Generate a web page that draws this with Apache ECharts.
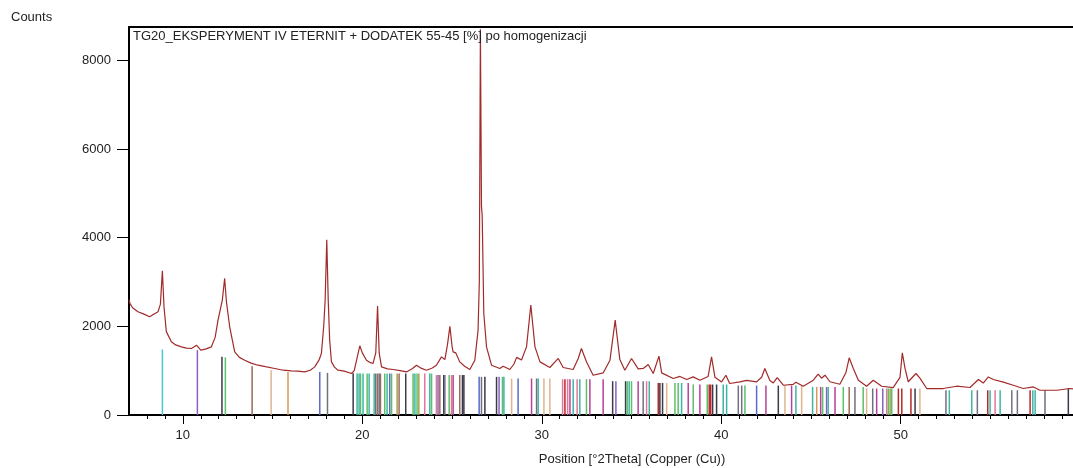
<!DOCTYPE html>
<html>
<head>
<meta charset="utf-8">
<script src="https://cdn.jsdelivr.net/npm/echarts@6/dist/echarts.min.js"></script>
<style>
  html, body { margin: 0; padding: 0; background: #fff; }
  #main { width: 1073px; height: 468px; }
</style>
</head>
<body>
<div id="main"></div>
<script>
// measured pattern: [2theta, counts]
const pattern = [
  [7.0, 2600], [7.05, 2520], [7.1, 2560], [7.2, 2420], [7.5, 2330], [7.8, 2280],
  [8.15, 2215], [8.4, 2280], [8.62, 2330], [8.75, 2500], [8.86, 3250], [8.95, 2440],
  [9.08, 1880], [9.36, 1650], [9.6, 1580], [9.92, 1537], [10.2, 1510], [10.48, 1500],
  [10.76, 1575], [11.0, 1462], [11.3, 1490], [11.59, 1537], [11.8, 1750], [11.96, 2140],
  [12.2, 2590], [12.33, 3080], [12.43, 2550], [12.61, 1990], [12.89, 1424], [13.15, 1300],
  [13.45, 1236], [13.8, 1170], [14.19, 1123], [14.6, 1090], [15.12, 1049], [15.6, 1010],
  [16.05, 994], [16.4, 990], [16.79, 972], [17.1, 1010], [17.35, 1085], [17.6, 1250],
  [17.72, 1388], [17.85, 2000], [17.93, 2600], [18.02, 3950], [18.1, 2600], [18.18, 1700],
  [18.28, 1198], [18.45, 1080], [18.65, 1010], [19.0, 990], [19.4, 936], [19.55, 1000],
  [19.68, 1236], [19.86, 1560], [20.0, 1400], [20.23, 1236], [20.45, 1180], [20.6, 1162],
  [20.75, 1400], [20.85, 2460], [20.94, 1400], [21.07, 1085], [21.4, 1040], [21.72, 1026],
  [22.1, 1000], [22.46, 972], [22.8, 1050], [23.02, 1123], [23.3, 1050], [23.58, 1010],
  [23.9, 1060], [24.13, 1123], [24.41, 1311], [24.6, 1250], [24.75, 1600], [24.88, 2000],
  [25.0, 1550], [25.06, 1424], [25.21, 1400], [25.43, 1198], [25.7, 1100], [25.99, 1026],
  [26.27, 1236], [26.45, 1914], [26.52, 3000], [26.58, 8700], [26.64, 4700], [26.68, 4500],
  [26.77, 2290], [26.92, 1537], [27.2, 1123], [27.66, 1049], [27.85, 1100], [28.22, 1026],
  [28.45, 1150], [28.6, 1300], [28.87, 1240], [29.15, 1537], [29.39, 2480], [29.62, 1537],
  [29.9, 1198], [30.45, 1071], [30.92, 1275], [31.19, 1071], [31.75, 1026], [32.03, 1275],
  [32.21, 1500], [32.49, 1200], [32.86, 897], [33.42, 949], [33.8, 1236], [34.09, 2140],
  [34.35, 1250], [34.63, 1010], [35.0, 1275], [35.37, 1040], [35.65, 1050], [35.93, 1140],
  [36.21, 936], [36.53, 1327], [36.68, 950], [37.32, 823], [37.7, 870], [38.07, 800],
  [38.44, 860], [38.81, 784], [39.27, 870], [39.46, 1311], [39.65, 850], [40.02, 746],
  [40.26, 897], [40.47, 710], [41.04, 746], [41.41, 780], [41.97, 746], [42.25, 850],
  [42.43, 1049], [42.71, 780], [42.9, 723], [43.12, 845], [43.46, 671], [44.01, 690],
  [44.16, 740], [44.57, 649], [45.13, 784], [45.4, 920], [45.59, 830], [45.78, 897],
  [46.06, 750], [46.61, 694], [46.95, 960], [47.13, 1290], [47.36, 1050], [47.64, 784],
  [48.1, 649], [48.47, 784], [48.94, 649], [49.58, 619], [49.96, 850], [50.09, 1400],
  [50.24, 1050], [50.42, 750], [50.85, 936], [51.07, 830], [51.45, 597], [52.37, 597],
  [53.12, 649], [53.86, 620], [54.33, 800], [54.6, 720], [54.88, 859], [55.16, 800],
  [55.72, 740], [56.27, 671], [56.83, 597], [57.39, 633], [57.76, 558], [58.7, 558],
  [59.43, 597], [59.6, 590]
];

// reference lines: [2theta, height, phase]
const refLines = [
  [8.86, 1478, 0], [10.81, 1463, 2], [12.18, 1311, 4], [12.37, 1300, 3], [13.86, 1100, 5],
  [14.92, 1010, 6], [15.86, 972, 7], [17.63, 972, 8], [18.06, 950, 9], [19.49, 940, 4],
  [19.71, 935, 10], [19.82, 935, 10], [19.9, 935, 3], [20.04, 935, 10], [20.27, 935, 3],
  [20.38, 935, 10], [20.66, 935, 10], [20.75, 935, 9], [20.85, 935, 5], [20.94, 935, 9],
  [21.01, 935, 5], [21.25, 935, 3], [21.38, 935, 10], [21.53, 935, 8], [21.63, 935, 3],
  [21.94, 935, 13], [22.05, 935, 5], [22.42, 935, 4], [22.83, 935, 3], [22.93, 935, 10],
  [23.05, 935, 3], [23.15, 935, 13], [23.48, 935, 12], [23.76, 935, 10], [23.86, 935, 3],
  [24.13, 900, 12], [24.22, 900, 2], [24.32, 900, 5], [24.54, 900, 4], [24.6, 900, 9],
  [24.84, 900, 3], [24.97, 900, 12], [25.06, 900, 1], [25.43, 900, 5], [25.58, 900, 4],
  [25.66, 900, 4], [26.51, 860, 8], [26.64, 860, 9], [26.83, 860, 4], [27.48, 860, 4],
  [27.62, 860, 2], [27.81, 860, 3], [27.89, 860, 10], [28.32, 823, 6], [28.68, 823, 8],
  [29.43, 823, 1], [29.71, 823, 9], [29.8, 823, 10], [30.12, 823, 6], [30.45, 823, 6],
  [31.16, 808, 12], [31.29, 808, 11], [31.44, 808, 12], [31.57, 808, 1], [31.75, 808, 10],
  [31.97, 808, 12], [32.12, 808, 10], [32.49, 808, 3], [32.68, 808, 1], [33.42, 808, 1],
  [33.95, 762, 4], [34.13, 762, 2], [34.67, 762, 4], [34.76, 762, 3], [34.87, 762, 10],
  [35.0, 762, 3], [35.37, 762, 1], [35.65, 762, 9], [35.84, 762, 12], [35.99, 762, 10],
  [36.49, 723, 11], [36.58, 723, 4], [36.73, 723, 4], [36.96, 723, 6], [37.42, 723, 3],
  [37.6, 723, 3], [37.79, 723, 10], [38.16, 723, 1], [38.44, 687, 3], [38.81, 687, 1],
  [39.22, 687, 3], [39.33, 687, 11], [39.41, 687, 11], [39.52, 687, 4], [39.74, 687, 4],
  [40.11, 687, 10], [40.3, 687, 10], [40.95, 664, 9], [41.14, 664, 9], [41.32, 664, 3],
  [41.97, 664, 8], [42.49, 664, 1], [43.18, 664, 4], [43.55, 664, 6], [43.92, 664, 1],
  [44.16, 664, 10], [44.48, 664, 6], [45.09, 633, 10], [45.32, 633, 7], [45.54, 633, 1],
  [45.65, 633, 3], [45.87, 633, 2], [45.96, 633, 10], [46.34, 633, 1], [46.8, 633, 3],
  [47.13, 633, 5], [47.45, 633, 9], [47.91, 633, 3], [48.1, 597, 6], [48.44, 597, 9],
  [48.66, 597, 1], [49.0, 597, 2], [49.22, 597, 12], [49.31, 597, 3], [49.41, 597, 13],
  [49.5, 597, 3], [49.87, 597, 11], [50.06, 597, 11], [50.57, 597, 11], [50.8, 597, 4],
  [51.07, 597, 6], [52.52, 558, 9], [52.71, 558, 10], [53.96, 558, 10], [54.27, 558, 9],
  [54.85, 558, 11], [54.98, 558, 10], [55.26, 558, 12], [55.54, 558, 10], [56.19, 558, 9],
  [56.5, 558, 9], [57.21, 558, 11], [57.36, 558, 10], [57.49, 558, 10], [58.04, 558, 9],
  [59.34, 597, 4]
];

const xTicks = [10, 20, 30, 40, 50];
const xMinorTicks = [8, 9, 11, 12, 13, 14, 15, 16, 17, 18, 19, 21, 22, 23, 24, 25, 26, 27, 28, 29,
  31, 32, 33, 34, 35, 36, 37, 38, 39, 41, 42, 43, 44, 45, 46, 47, 48, 49, 51, 52, 53, 54, 55, 56, 57, 58, 59];
const yTicks = [0, 2000, 4000, 6000, 8000];

const phaseColors = ['#4ec3d6', '#b8409a', '#8a60c0', '#5cbf6a', '#3a3a48', '#9a6a5a', '#e0b48c',
  '#d89858', '#5a6ac8', '#707080', '#3fb5a5', '#b82828', '#e07898', '#a8a050'];

const font = "'Liberation Sans', Arial, sans-serif";

let chartDom = document.getElementById('main');
let myChart = echarts.init(chartDom, null, { renderer: 'canvas' });
let option;

option = {
  backgroundColor: '#fff',
  animation: false,
  grid: { left: 129, right: 0, top: 27, bottom: 53 },
  xAxis: [
    {
      type: 'value', min: 7, max: 59.6, position: 'bottom',
      axisLine: { lineStyle: { color: '#000', width: 2 } },
      axisTick: { customValues: xTicks, length: 9, lineStyle: { color: '#000', width: 1 } },
      axisLabel: { customValues: xTicks, color: '#222', fontSize: 13, fontFamily: font, margin: 14 },
      splitLine: { show: false }
    },
    {
      type: 'value', min: 7, max: 59.6, position: 'bottom',
      axisLine: { show: false },
      axisTick: { customValues: xMinorTicks, length: 4, lineStyle: { color: '#000', width: 1 } },
      axisLabel: { show: false },
      splitLine: { show: false }
    },
    {
      type: 'value', min: 7, max: 59.6, position: 'top',
      axisLine: { lineStyle: { color: '#000', width: 2 } },
      axisTick: { show: false },
      axisLabel: { show: false },
      splitLine: { show: false }
    }
  ],
  yAxis: {
    type: 'value', min: 0, max: 8750,
    axisLine: { show: true, onZero: false, lineStyle: { color: '#000', width: 2 } },
    axisTick: { show: true, customValues: yTicks, length: 12, lineStyle: { color: '#000', width: 1 } },
    axisLabel: {
      customValues: yTicks, color: '#222', fontSize: 13, fontFamily: font, margin: 18,
      formatter: function (v) { return String(v); }
    },
    splitLine: { show: false }
  },
  graphic: [
    { type: 'text', left: 11, top: 11, style: { text: 'Counts', fill: '#222', font: '13px ' + font } },
    { type: 'text', left: 133, top: 30, z: 10,
      style: { text: 'TG20_EKSPERYMENT IV ETERNIT + DODATEK 55-45 [%] po homogenizacji', fill: '#222', font: '13px ' + font } },
    { type: 'text', x: 632, y: 459,
      style: { text: 'Position [°2Theta] (Copper (Cu))', fill: '#222', font: '13px ' + font, align: 'center', verticalAlign: 'middle' } }
  ],
  series: [
    {
      type: 'custom',
      xAxisIndex: 0,
      clip: true,
      encode: { x: 0, y: 1 },
      data: refLines,
      z: 1,
      renderItem: function (params, api) {
        let p0 = api.coord([api.value(0), 0]);
        let p1 = api.coord([api.value(0), api.value(1)]);
        return {
          type: 'line',
          shape: { x1: p0[0], y1: p0[1], x2: p1[0], y2: p1[1] },
          style: { stroke: phaseColors[api.value(2)], lineWidth: 1.5 }
        };
      }
    },
    {
      type: 'line',
      xAxisIndex: 0,
      data: pattern,
      showSymbol: false,
      z: 3,
      lineStyle: { color: '#a12a2a', width: 1.2 }
    }
  ]
};

option && myChart.setOption(option);
</script>
</body>
</html>
